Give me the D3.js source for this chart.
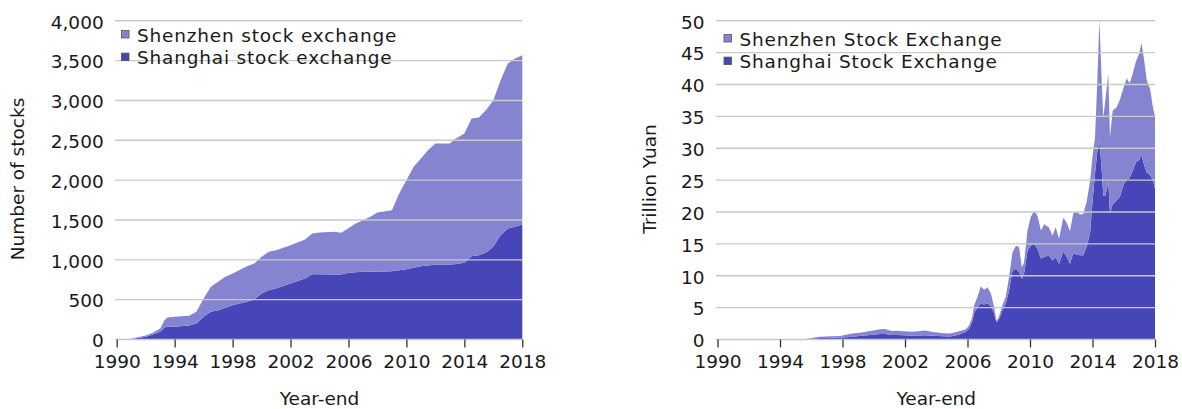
<!DOCTYPE html>
<html>
<head>
<meta charset="utf-8">
<script src="https://cdn.jsdelivr.net/npm/d3@7"></script>
<style>
  body { margin: 0; background: #fff; }
  svg { display: block; font-family: "DejaVu Sans", Verdana, sans-serif; }
</style>
</head>
<body>
<svg id="chart" width="1182" height="409"></svg>
<script>
// listed stocks, year-end
const stockYears = [1990, 1991, 1992, 1992.5, 1993, 1993.3, 1993.5, 1994, 1995, 1995.5, 1996, 1996.5, 1997, 1997.5, 1998, 1999, 1999.5, 2000, 2000.5, 2001, 2002, 2003, 2003.5, 2004, 2005, 2005.5, 2006, 2006.5, 2007, 2007.5, 2008, 2009, 2009.5, 2010, 2010.5, 2011, 2011.5, 2012, 2013, 2013.3, 2014, 2014.5, 2015, 2015.5, 2016, 2016.5, 2017, 2017.5, 2018]
const stockShanghai = [0, 7, 33, 63, 96, 150, 159, 160, 176, 200, 285, 347, 368, 400, 431, 473, 502, 577, 619, 640, 703, 766, 820, 820, 816, 816, 837, 843, 849, 849, 849, 858, 870, 883, 900, 920, 930, 941, 941, 945, 962, 1046, 1058, 1092, 1163, 1310, 1393, 1414, 1443]
const stockShenzhen = [0, 3, 17, 21, 42, 93, 117, 125, 121, 147, 230, 314, 356, 387, 397, 447, 452, 461, 481, 481, 481, 489, 510, 523, 535, 523, 560, 613, 649, 691, 745, 765, 963, 1117, 1267, 1352, 1447, 1519, 1519, 1565, 1624, 1728, 1729, 1787, 1841, 1945, 2071, 2113, 2126]

// market capitalisation, trillion yuan
const capYears = [1990, 1995, 1995.5, 1996, 1996.56, 1997.3, 1997.84, 1998.6, 1999.1, 1999.76, 2000.4, 2000.72, 2001.15, 2001.5, 2001.9, 2002.53, 2003.28, 2003.8, 2004.45, 2004.83, 2005.09, 2005.47, 2005.9, 2006.1, 2006.3, 2006.43, 2006.64, 2006.85, 2007.07, 2007.28, 2007.5, 2007.7, 2007.85, 2008, 2008.24, 2008.45, 2008.66, 2008.88, 2009.1, 2009.3, 2009.48, 2009.62, 2009.84, 2010.05, 2010.26, 2010.48, 2010.7, 2010.9, 2011.2, 2011.44, 2011.65, 2011.86, 2012.13, 2012.35, 2012.56, 2012.77, 2012.99, 2013.2, 2013.41, 2013.63, 2013.84, 2014.01, 2014.16, 2014.31, 2014.44, 2014.59, 2014.69, 2014.82, 2015.01, 2015.12, 2015.29, 2015.54, 2015.75, 2015.98, 2016.2, 2016.37, 2016.55, 2016.78, 2017, 2017.13, 2017.29, 2017.47, 2017.7, 2017.86, 2018]
const capShanghai = [0, 0, 0.03, 0.14, 0.23, 0.27, 0.29, 0.44, 0.55, 0.70, 0.86, 0.88, 0.70, 0.72, 0.65, 0.60, 0.68, 0.60, 0.50, 0.48, 0.55, 0.80, 1.2, 1.7, 2.8, 4.1, 5.1, 5.6, 5.5, 5.7, 5.2, 4.1, 2.7, 3.1, 4.6, 5.6, 7.7, 10.8, 11.1, 10.6, 9.5, 10.3, 13.9, 14.7, 15.0, 14.2, 12.7, 12.9, 13.2, 12.4, 12.9, 11.9, 13.8, 13.0, 11.9, 13.5, 13.3, 13.2, 13.2, 14.6, 16.6, 21.9, 26.0, 29.5, 31.3, 26.6, 22.5, 22.5, 24.8, 19.8, 21.2, 21.8, 22.4, 24.2, 25.2, 25.3, 26.3, 27.8, 28.2, 29.0, 27.5, 26.2, 25.8, 25.0, 23.7]
const capShenzhen = [0, 0, 0.02, 0.11, 0.21, 0.25, 0.26, 0.52, 0.52, 0.63, 0.73, 0.76, 0.63, 0.66, 0.63, 0.62, 0.75, 0.57, 0.50, 0.45, 0.52, 0.50, 0.4, 0.5, 0.7, 1.3, 1.6, 2.7, 2.3, 2.5, 2.0, 1.0, 0.2, 0.4, 0.8, 1.1, 2.1, 2.9, 3.6, 3.9, 1.8, 1.8, 3.2, 4.5, 5.2, 5.2, 4.4, 5.2, 4.4, 3.9, 4.7, 3.9, 5.3, 5.3, 5.1, 6.3, 6.8, 6.4, 6.5, 7.1, 8.2, 7.1, 5.7, 11.1, 18.8, 14.0, 12.3, 15.0, 16.9, 11.9, 14.7, 14.6, 15.2, 15.2, 15.8, 14.9, 15.2, 15.8, 16.7, 17.5, 16.6, 14.5, 13.4, 11.5, 11.3]

const yearTicks = [1990, 1994, 1998, 2002, 2006, 2010, 2014, 2018]
const stockTicks = [0, 500, 1000, 1500, 2000, 2500, 3000, 3500, 4000]
const capTicks = [0, 5, 10, 15, 20, 25, 30, 35, 40, 45, 50]

const lightColor = "#8484d0"
const darkColor = "#4646b8"
const fontSize = 18.5

const svg = d3.select("#chart")

function drawPanel(o) {
  let x = d3.scaleLinear().domain([1990, 2018]).range([o.left, o.right])
  let y = d3.scaleLinear().domain([0, o.max]).range([339.5, 20.8])

  let rows = o.years.map((yr, i) => ({year: yr, shanghai: o.shanghai[i], shenzhen: o.shenzhen[i]}))
  let series = d3.stack().keys(["shanghai", "shenzhen"])(rows)
  let area = d3.area()
    .x(d => x(d.data.year))
    .y0(d => y(d[0]))
    .y1(d => y(d[1]))

  let g = svg.append("g")

  g.selectAll("path.area")
    .data(series)
    .join("path")
    .attr("class", "area")
    .attr("fill", d => d.key == "shanghai" ? darkColor : lightColor)
    .attr("d", area)

  //gridlines sit on top of the areas
  g.append("g")
    .selectAll("line")
    .data(o.yTicks)
    .join("line")
    .attr("x1", o.left - 1.5)
    .attr("x2", o.right)
    .attr("y1", d => y(d))
    .attr("y2", d => y(d))
    .attr("stroke", "#c9c9c9")
    .attr("stroke-width", 1.4)

  g.append("g")
    .selectAll("text")
    .data(o.yTicks)
    .join("text")
    .attr("x", o.left - 13)
    .attr("y", d => y(d))
    .attr("dy", "0.42em")
    .attr("text-anchor", "end")
    .attr("font-size", fontSize)
    .attr("fill", "#1a1a1a")
    .text(d => o.fmt(d))

  //bottom axis
  g.append("g")
    .attr("transform", "translate(0,339.5)")
    .call(d3.axisBottom(x).tickValues(yearTicks).tickFormat(d3.format("d")).tickSize(8).tickPadding(7))
    .call(a => a.select(".domain").remove())
    .call(a => a.selectAll("line").attr("stroke", "#333").attr("stroke-width", 1.3))
    .call(a => a.selectAll("text").attr("font-size", fontSize).attr("font-family", "DejaVu Sans, sans-serif").attr("fill", "#1a1a1a"))

  g.append("text")
    .attr("x", (o.left + o.right) / 2)
    .attr("y", 405)
    .attr("text-anchor", "middle")
    .attr("font-size", fontSize)
    .attr("fill", "#1a1a1a")
    .text("Year-end")

  g.append("text")
    .attr("transform", `translate(${o.titleX},179) rotate(-90)`)
    .attr("text-anchor", "middle")
    .attr("dy", "0.35em")
    .attr("font-size", fontSize)
    .attr("fill", "#1a1a1a")
    .text(o.yTitle)

  //legend
  let lg = g.append("g").attr("transform", `translate(${o.legendX},${o.legendY})`)
  o.legend.forEach((label, i) => {
    lg.append("rect")
      .attr("x", 0.5)
      .attr("y", i * 22.6 - 11)
      .attr("width", 7.5)
      .attr("height", 7.5)
      .attr("fill", i == 0 ? lightColor : darkColor)
      .attr("stroke", "#555")
      .attr("stroke-width", 0.8)
    lg.append("text")
      .attr("x", 16)
      .attr("y", i * 22.6)
      .attr("font-size", fontSize)
      .attr("letter-spacing", 0.8)
      .attr("fill", "#1a1a1a")
      .text(label)
  })
}

drawPanel({
  left: 116.7, right: 522.3, max: 4000,
  years: stockYears, shanghai: stockShanghai, shenzhen: stockShenzhen,
  yTicks: stockTicks, fmt: d3.format(","),
  yTitle: "Number of stocks", titleX: 18,
  legend: ["Shenzhen stock exchange", "Shanghai stock exchange"],
  legendX: 121, legendY: 41.5
})

drawPanel({
  left: 717.5, right: 1155, max: 50,
  years: capYears, shanghai: capShanghai, shenzhen: capShenzhen,
  yTicks: capTicks, fmt: d3.format("d"),
  yTitle: "Trillion Yuan", titleX: 650,
  legend: ["Shenzhen Stock Exchange", "Shanghai Stock Exchange"],
  legendX: 723.5, legendY: 45.5
})
</script>
</body>
</html>
